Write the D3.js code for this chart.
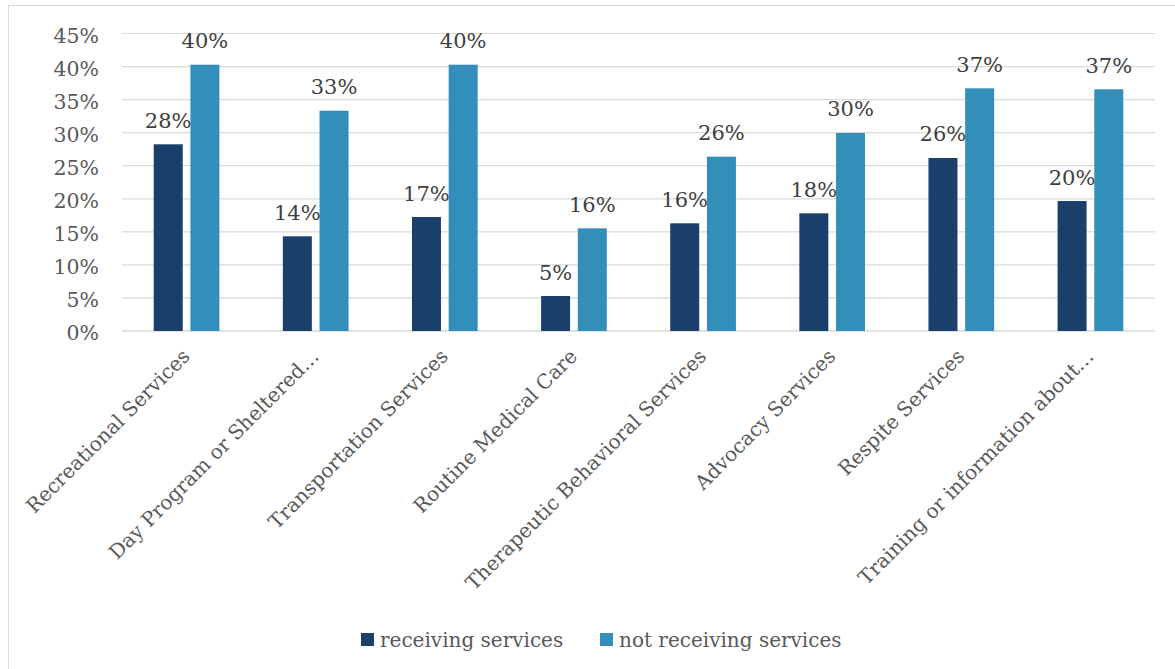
<!DOCTYPE html>
<html>
<head>
<meta charset="utf-8">
<script src="https://cdn.jsdelivr.net/npm/d3@7"></script>
<style>
  html, body { margin: 0; padding: 0; background: #fff; }
  svg { display: block; font-family: "DejaVu Serif", "Liberation Serif", serif; }
</style>
</head>
<body>
<svg id="chart" width="1175" height="669"></svg>
<script>
// Service categories (axis labels as shown, long ones truncated)
const categories = [
  "Recreational Services",
  "Day Program or Sheltered\u2026",
  "Transportation Services",
  "Routine Medical Care",
  "Therapeutic Behavioral Services",
  "Advocacy Services",
  "Respite Services",
  "Training or information about\u2026"
];
const seriesNames = ["receiving services", "not receiving services"];
// share of respondents who needed each service but did not get it
const receiving    = [0.2824, 0.1432, 0.1724, 0.0529, 0.1629, 0.1780, 0.2617, 0.1966];
const notReceiving = [0.4028, 0.3332, 0.4028, 0.1553, 0.2637, 0.2995, 0.3671, 0.3656];
const yTicks = [0, 0.05, 0.10, 0.15, 0.20, 0.25, 0.30, 0.35, 0.40, 0.45];
const colors = ["#1a3f6b", "#338fba"];

const svg = d3.select("#chart");
const W = 1175, H = 669;
const plot = { left: 122, right: 1155, top: 33.5, bottom: 331 };
const pct = d3.format(".0%");

// outer frame (only top/left edges fall inside the view)
svg.append("rect")
  .attr("x", 8.5).attr("y", 5.5)
  .attr("width", W + 20).attr("height", H + 20)
  .attr("fill", "none").attr("stroke", "#d9d9d9").attr("stroke-width", 1);

const x0 = d3.scaleBand().domain(categories).range([plot.left, plot.right]);
const x1 = d3.scaleBand().domain(seriesNames).range([0, x0.bandwidth()])
  .paddingInner(0.21).paddingOuter(0.864);
const y = d3.scaleLinear().domain([0, 0.45]).range([plot.bottom, plot.top]);

// gridlines
svg.append("g").selectAll("line").data(yTicks).join("line")
  .attr("x1", plot.left).attr("x2", plot.right)
  .attr("y1", d => y(d)).attr("y2", d => y(d))
  .attr("stroke", "#d9d9d9").attr("stroke-width", d => d === 0 ? 1.4 : 1.2);

// y axis labels
const yAxis = d3.axisLeft(y).tickValues(yTicks).tickFormat(pct).tickSize(0).tickPadding(0);
const yg = svg.append("g").attr("transform", `translate(${plot.left - 23},0)`).call(yAxis);
yg.select(".domain").remove();
yg.selectAll("text")
  .attr("font-family", "DejaVu Serif, serif")
  .attr("font-size", 20.5).attr("fill", "#595959").attr("dy", "0.42em");

// bars
const data = categories.map((c, i) => ({ cat: c, vals: [receiving[i], notReceiving[i]] }));
const groups = svg.append("g").selectAll("g").data(data).join("g")
  .attr("transform", d => `translate(${x0(d.cat)},0)`);

const cells = d => d.vals.map((v, j) => ({ v, s: seriesNames[j], j }));

groups.selectAll("rect").data(cells).join("rect")
  .attr("x", d => x1(d.s))
  .attr("width", x1.bandwidth())
  .attr("y", d => y(d.v))
  .attr("height", d => y(0) - y(d.v))
  .attr("fill", d => colors[d.j]);

// data labels
groups.selectAll("text.val").data(cells).join("text")
  .attr("class", "val")
  .attr("x", d => x1(d.s) + x1.bandwidth() / 2)
  .attr("y", d => y(d.v) - 16.5)
  .attr("text-anchor", "middle")
  .attr("font-size", 21)
  .attr("fill", "#404040")
  .text(d => pct(d.v));

// category labels, rotated
svg.append("g").selectAll("text").data(categories).join("text")
  .attr("transform", d => `translate(${x0(d) + x0.bandwidth() / 2},${plot.bottom + 22}) rotate(-45)`)
  .attr("text-anchor", "end")
  .attr("dy", "0.32em")
  .attr("font-size", 20)
  .attr("fill", "#595959")
  .text(d => d);

// legend
const legend = svg.append("g");
const legendItems = [
  { name: seriesNames[0], x: 361, color: colors[0] },
  { name: seriesNames[1], x: 600, color: colors[1] }
];
legendItems.forEach(it => {
  legend.append("rect").attr("x", it.x).attr("y", 633).attr("width", 13).attr("height", 13).attr("fill", it.color);
  legend.append("text").attr("x", it.x + 19).attr("y", 646.5)
    .attr("font-size", 20).attr("fill", "#595959").text(it.name);
});
</script>
</body>
</html>
